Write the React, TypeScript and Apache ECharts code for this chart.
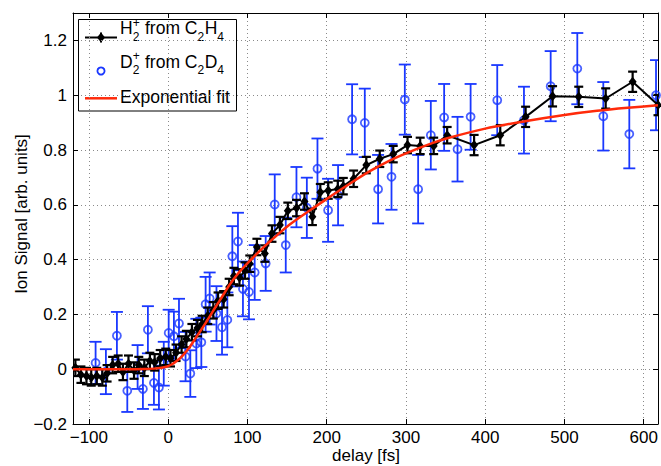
import React, { useEffect, useRef } from 'react';
import * as echarts from 'echarts';

const FONT_FAMILY = "'Liberation Sans', Arial, Helvetica, sans-serif";
const BLUE = '#1a38ff';
const RED = '#ff2a0a';
const BLACK = '#000000';

// H2+ from C2H4 (black diamonds, joined)
const blackDelay = [
  -117, -110, -103, -97, -90, -83, -77, -70, -63, -57,
  -50, -43, -37, -30, -23, -17, -10, -3, 3, 10,
  17, 23, 30, 37, 43, 50, 57, 63, 70, 77,
  83, 90, 97, 103, 112, 122, 131, 141, 151, 162,
  172, 182, 192, 202, 214, 221, 234, 250, 267, 284,
  302, 318, 335, 352, 386, 419, 451, 485, 518, 552,
  586, 618,
];
const blackSignal = [
  0.005, -0.02, -0.025, -0.03, -0.025, -0.03, -0.015, 0.015, 0.02, -0.01,
  0.02, -0.005, 0.015, 0.005, 0.03, 0.025, 0.04, 0.045, 0.04, 0.06,
  0.09, 0.11, 0.135, 0.15, 0.165, 0.195, 0.215, 0.25, 0.255, 0.3,
  0.34, 0.335, 0.36, 0.385, 0.446, 0.422, 0.495, 0.526, 0.578, 0.588,
  0.612, 0.556, 0.646, 0.652, 0.658, 0.668, 0.695, 0.745, 0.768, 0.785,
  0.818, 0.815, 0.815, 0.854, 0.818, 0.854, 0.921, 0.996, 0.994, 0.988,
  1.049, 0.964,
];
const blackErr = [
  0.03, 0.03, 0.03, 0.03, 0.03, 0.03, 0.03, 0.03, 0.03, 0.03,
  0.03, 0.03, 0.03, 0.03, 0.03, 0.03, 0.03, 0.03, 0.03, 0.03,
  0.03, 0.03, 0.03, 0.03, 0.03, 0.03, 0.03, 0.03, 0.03, 0.03,
  0.03, 0.03, 0.03, 0.03, 0.03, 0.03, 0.03, 0.03, 0.03, 0.03,
  0.03, 0.03, 0.03, 0.03, 0.03, 0.03, 0.03, 0.03, 0.03, 0.03,
  0.03, 0.03, 0.03, 0.03, 0.037, 0.037, 0.037, 0.037, 0.037, 0.037,
  0.037, 0.037,
];

// D2+ from C2D4 (blue open circles)
const blueDelay = [
  -91.5, -78.5, -64.6, -51.5, -38.5, -31.8, -25.5, -17.9, -11.6, -5.5,
  0.7, 7.3, 13.7, 22, 28, 35.6, 41.9, 47.3, 52.4, 61,
  68, 74.7, 81, 88.1, 94.4, 102, 109.2, 123.1, 134.5, 148.4,
  161.9, 175, 188.4, 201.8, 214.4, 232.1, 248.1, 264.9, 281.8, 298.6,
  315.4, 331.4, 348.2, 365.1, 381.6, 415.2, 448.9, 482.6, 516.2, 549,
  581.8, 615.5,
];
const blueSignal = [
  0.023, -0.009, 0.122, -0.079, 0.008, -0.072, 0.144, -0.05, -0.067, 0.02,
  0.132, 0.12, 0.167, 0.046, -0.016, 0.094, 0.098, 0.237, 0.258, 0.203,
  0.153, 0.18, 0.412, 0.466, 0.293, 0.282, 0.353, 0.386, 0.601, 0.453,
  0.628, 0.589, 0.732, 0.58, 0.635, 0.912, 0.899, 0.657, 0.702, 0.984,
  0.657, 0.854, 0.919, 0.803, 0.921, 0.982, 0.909, 1.033, 1.097, 0.923,
  0.858, 1.0,
];
const blueErr = [
  0.077, 0.082, 0.087, 0.077, 0.08, 0.073, 0.086, 0.08, 0.08, 0.08,
  0.085, 0.09, 0.09, 0.09, 0.085, 0.09, 0.09, 0.1, 0.095, 0.1,
  0.1, 0.1, 0.11, 0.105, 0.1, 0.1, 0.1, 0.1, 0.11, 0.1,
  0.11, 0.11, 0.11, 0.115, 0.11, 0.128, 0.125, 0.125, 0.12, 0.128,
  0.125, 0.125, 0.122, 0.118, 0.12, 0.128, 0.122, 0.128, 0.13, 0.125,
  0.125, 0.128,
];

// Exponential fit curve
const fitDelay = [
  -120, -80, -50, -30, -15, -5, 0, 5, 10, 15,
  20, 27, 35, 40, 48, 52, 60, 65, 78, 90,
  103, 115, 128, 153, 179, 204, 229, 254, 280, 300,
  334, 351, 400, 452, 500, 541, 580, 618,
];
const fitSignal = [
  0, 0, 0, 0.001, 0.003, 0.007, 0.011, 0.018, 0.028, 0.04,
  0.055, 0.08, 0.115, 0.136, 0.172, 0.19, 0.228, 0.25, 0.31, 0.355,
  0.395, 0.43, 0.465, 0.527, 0.58, 0.629, 0.677, 0.722, 0.762, 0.788,
  0.826, 0.842, 0.878, 0.906, 0.928, 0.943, 0.954, 0.963,
];

const xTicks = [-100, 0, 100, 200, 300, 400, 500, 600];
const yTicks = [-0.2, 0, 0.2, 0.4, 0.6, 0.8, 1, 1.2];

const xTitle = 'delay [fs]';
const yTitle = 'Ion Signal [arb. units]';

type Piece = { main?: string; sup?: string; sub?: string };
const legendLabels: Piece[][] = [
  [{ main: 'H' }, { sup: '+', sub: '2' }, { main: ' from C' }, { sub: '2' }, { main: 'H' }, { sub: '4' }],
  [{ main: 'D' }, { sup: '+', sub: '2' }, { main: ' from C' }, { sub: '2' }, { main: 'D' }, { sub: '4' }],
  [{ main: 'Exponential fit' }],
];

const fmtTick = (v: number) => {
  const r = Math.round(v * 10) / 10;
  return r < 0 ? '\u2212' + String(Math.abs(r)) : String(r);
};

function errorBarSeries(
  name: string,
  delay: number[],
  signal: number[],
  err: number[],
  color: string,
  capHalf: number,
  lineWidth: number,
  z: number,
) {
  const data = delay.map((d, i) => [d, signal[i] - err[i], signal[i] + err[i]]);
  return {
    type: 'custom',
    name,
    data,
    z,
    clip: true,
    silent: true,
    encode: { x: 0, y: [1, 2] },
    renderItem: (_params: any, api: any) => {
      const x = api.value(0);
      const top = api.coord([x, api.value(2)]);
      const bot = api.coord([x, api.value(1)]);
      const st = { stroke: color, lineWidth, fill: null };
      return {
        type: 'group',
        children: [
          { type: 'line', shape: { x1: top[0], y1: top[1], x2: bot[0], y2: bot[1] }, style: st },
          { type: 'line', shape: { x1: top[0] - capHalf, y1: top[1], x2: top[0] + capHalf, y2: top[1] }, style: st },
          { type: 'line', shape: { x1: bot[0] - capHalf, y1: bot[1], x2: bot[0] + capHalf, y2: bot[1] }, style: st },
        ],
      };
    },
  };
}

function buildGraphics(): any[] {
  const canvas = document.createElement('canvas');
  const ctx = canvas.getContext('2d') as CanvasRenderingContext2D;
  const measure = (t: string, size: number) => {
    ctx.font = `${size}px ${FONT_FAMILY}`;
    return ctx.measureText(t).width;
  };
  const mainSize = 17.5;
  const scriptSize = 12;
  const children: any[] = [];
  children.push({
    type: 'rect',
    shape: { x: 78.5, y: 19.5, width: 158, height: 91.5 },
    style: { fill: '#ffffff', stroke: BLACK, lineWidth: 1 },
  });
  // legend icons
  const lineX1 = 85;
  const lineX2 = 117;
  const iconX = 101;
  const y1 = 37.5;
  children.push({ type: 'line', shape: { x1: lineX1, y1, x2: lineX2, y2: y1 }, style: { stroke: BLACK, lineWidth: 2 } });
  children.push({ type: 'line', shape: { x1: iconX, y1: y1 - 5, x2: iconX, y2: y1 + 5 }, style: { stroke: BLACK, lineWidth: 2 } });
  children.push({
    type: 'polygon',
    shape: { points: [[iconX, y1 - 5], [iconX + 4, y1], [iconX, y1 + 5], [iconX - 4, y1]] },
    style: { fill: BLACK },
  });
  children.push({ type: 'circle', shape: { cx: iconX, cy: 71, r: 3.6 }, style: { fill: 'none', stroke: BLUE, lineWidth: 1.8 } });
  children.push({ type: 'line', shape: { x1: lineX1, y1: 98.3, x2: lineX2, y2: 98.3 }, style: { stroke: RED, lineWidth: 2.5 } });

  // legend labels with stacked sub/superscripts
  const rowsY = [28, 61.5, 96.5];
  legendLabels.forEach((pieces, row) => {
    let x = 120;
    const yc = rowsY[row];
    pieces.forEach((p) => {
      if (p.main) {
        children.push({
          type: 'text',
          x,
          y: yc,
          style: { text: p.main, font: `${mainSize}px ${FONT_FAMILY}`, fill: BLACK, align: 'left', verticalAlign: 'middle' },
        });
        x += measure(p.main, mainSize);
      } else {
        let w = 0;
        if (p.sup) {
          children.push({
            type: 'text',
            x,
            y: yc - 5.5,
            style: { text: p.sup, font: `${scriptSize}px ${FONT_FAMILY}`, fill: BLACK, align: 'left', verticalAlign: 'middle' },
          });
          w = Math.max(w, measure(p.sup, scriptSize));
        }
        if (p.sub) {
          children.push({
            type: 'text',
            x,
            y: yc + 8.5,
            style: { text: p.sub, font: `${scriptSize}px ${FONT_FAMILY}`, fill: BLACK, align: 'left', verticalAlign: 'middle' },
          });
          w = Math.max(w, measure(p.sub, scriptSize));
        }
        x += w + 0.5;
      }
    });
  });

  // axis titles
  const titleFont = `17px ${FONT_FAMILY}`;
  const titles = [
    { type: 'text', x: 366, y: 455, style: { text: xTitle, font: titleFont, fill: BLACK, align: 'center', verticalAlign: 'middle' } },
    {
      type: 'text',
      x: 21,
      y: 214,
      rotation: Math.PI / 2,
      style: { text: yTitle, font: titleFont, fill: BLACK, align: 'center', verticalAlign: 'middle' },
    },
  ];
  return [{ type: 'group', z: 100, children }, ...titles];
}

export default function App() {
  const ref = useRef<HTMLDivElement>(null);

  useEffect(() => {
    if (!ref.current) return;
    const chart = echarts.init(ref.current, undefined, { renderer: 'svg' });

    const axisLine = { show: true, onZero: false, lineStyle: { color: BLACK, width: 1 } };
    const grid = { show: true, lineStyle: { color: '#8a8a8a', type: [1, 3], width: 1 } };
    const label = { fontSize: 17, color: BLACK, fontFamily: FONT_FAMILY };

    const option: any = {
      animation: false,
      backgroundColor: '#ffffff',
      textStyle: { fontFamily: FONT_FAMILY },
      grid: { left: 73, top: 13, right: 3, bottom: 42, containLabel: false, outerBoundsMode: 'none' },
      xAxis: [
        {
          type: 'value',
          min: -120,
          max: 618,
          position: 'bottom',
          axisLine,
          axisTick: { show: true, inside: true, length: 5, customValues: xTicks, lineStyle: { color: BLACK } },
          axisLabel: { ...label, margin: 5, customValues: xTicks, formatter: fmtTick },
          splitLine: grid,
        },
        {
          type: 'value',
          min: -120,
          max: 618,
          position: 'top',
          axisLine,
          axisTick: { show: true, inside: true, length: 5, customValues: xTicks, lineStyle: { color: BLACK } },
          axisLabel: { show: false },
          splitLine: { show: false },
        },
      ],
      yAxis: [
        {
          type: 'value',
          min: -0.2,
          max: 1.3,
          position: 'left',
          axisLine,
          axisTick: { show: true, inside: true, length: 5, customValues: yTicks, lineStyle: { color: BLACK } },
          axisLabel: { ...label, margin: 6, customValues: yTicks, formatter: fmtTick },
          splitLine: grid,
        },
        {
          type: 'value',
          min: -0.2,
          max: 1.3,
          position: 'right',
          axisLine,
          axisTick: { show: true, inside: true, length: 5, customValues: yTicks, lineStyle: { color: BLACK } },
          axisLabel: { show: false },
          splitLine: { show: false },
        },
      ],
      series: [
        errorBarSeries('D2+ error', blueDelay, blueSignal, blueErr, BLUE, 6, 1.8, 2),
        {
          type: 'scatter',
          name: 'D2+ from C2D4',
          data: blueDelay.map((d, i) => [d, blueSignal[i]]),
          symbol: 'circle',
          symbolSize: 8,
          itemStyle: { color: 'rgba(0,0,0,0)', borderColor: BLUE, borderWidth: 1.8 },
          z: 2,
          silent: true,
        },
        errorBarSeries('H2+ error', blackDelay, blackSignal, blackErr, BLACK, 4.5, 2.2, 3),
        {
          type: 'line',
          name: 'H2+ from C2H4',
          data: blackDelay.map((d, i) => [d, blackSignal[i]]),
          symbol: 'diamond',
          symbolSize: [8, 10],
          showSymbol: true,
          itemStyle: { color: BLACK },
          lineStyle: { color: BLACK, width: 2 },
          z: 3,
          silent: true,
        },
        {
          type: 'line',
          name: 'Exponential fit',
          data: fitDelay.map((d, i) => [d, fitSignal[i]]),
          smooth: 0.3,
          showSymbol: false,
          symbol: 'none',
          lineStyle: { color: RED, width: 2.5 },
          z: 4,
          silent: true,
        },
      ],
      graphic: buildGraphics(),
    };

    chart.setOption(option);
    return () => chart.dispose();
  }, []);

  return (
    <div
      ref={ref}
      style={{ position: 'fixed', left: 0, top: 0, width: 661, height: 466, background: '#fff' }}
    />
  );
}
